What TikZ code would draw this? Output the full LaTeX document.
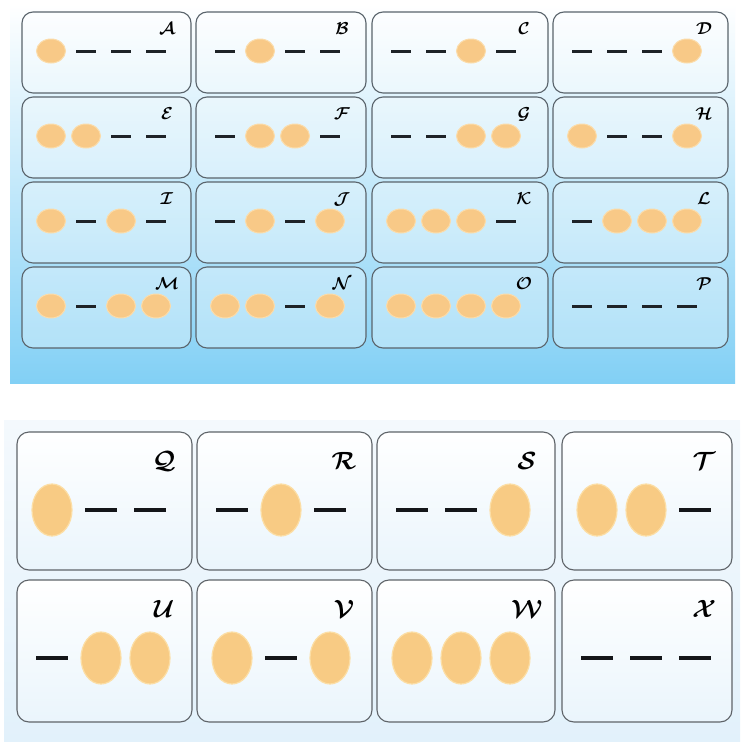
\documentclass[tikz,border=0pt]{standalone}
\usepackage{amsmath}
\usetikzlibrary{shapes.geometric}
\begin{document}
\begin{tikzpicture}[x=1pt,y=-1pt,
  cellbox/.style={draw={rgb,255:red,90;green,100;blue,108}, line width=1.1pt, rounded corners=11pt, fill=white, fill opacity=0.32, draw opacity=1},
  bcellbox/.style={draw={rgb,255:red,95;green,100;blue,105}, line width=1.1pt, rounded corners=12pt, top color=white, bottom color={rgb,255:red,234;green,245;blue,252}},
  topball/.style={ellipse, minimum width=29pt, minimum height=24pt, inner sep=0pt, fill={rgb,255:red,248;green,201;blue,135}, draw={rgb,255:red,251;green,220;blue,170}, line width=1pt},
  botball/.style={ellipse, minimum width=40pt, minimum height=52pt, inner sep=0pt, fill={rgb,255:red,248;green,203;blue,132}, draw={rgb,255:red,252;green,222;blue,165}, line width=1.2pt},
  topdash/.style={line width=3pt, draw={rgb,255:red,30;green,35;blue,40}},
  botdash/.style={line width=4pt, draw={rgb,255:red,20;green,22;blue,25}},
  toplab/.style={font=\boldmath\fontsize{16}{16}\selectfont, inner sep=0pt},
  botlab/.style={font=\boldmath\fontsize{25}{25}\selectfont, inner sep=0pt}
]
\useasboundingbox (0,0) rectangle (740,742);
\fill[white] (0,0) rectangle (740,742);
% top background
\shade[top color=white, middle color={rgb,255:red,200;green,232;blue,249}, bottom color={rgb,255:red,130;green,208;blue,245}] (10,4) rectangle (735,383);
% bottom background
\shade[top color={rgb,255:red,244;green,249;blue,253}, bottom color={rgb,255:red,226;green,241;blue,251}] (4,420) rectangle (740,742);

% #1 left, #2 top, #3 width, #4 pattern, #5 letter
\newcommand\tcell[5]{%
  \draw[cellbox] (#1,#2) rectangle ++(#3,81);
  \node[toplab] (lab#5) at (#1+#3-24,#2+17) {$\mathcal{#5}$};
  \foreach \s [count=\k] in {#4} {
    \if\s o
      \node[topball] (b#5\k) at (#1-6+35*\k,#2+39) {};
    \else
      \coordinate (d#5\k) at (#1-6+35*\k,#2+39);
      \draw[topdash] ([xshift=-10pt]d#5\k) -- ([xshift=10pt]d#5\k);
    \fi
  }
}
\newcommand\bcell[6]{%
  \draw[bcellbox] (#1,#2) rectangle ++(#3,#4);
  \node[botlab] (lab#6) at (#1+#3-28,#2+29) {$\mathcal{#6}$};
  \foreach \s [count=\k] in {#5} {
    \if\s o
      \node[botball] (b#6\k) at (#1-14+49*\k,#2+78) {};
    \else
      \coordinate (d#6\k) at (#1-14+49*\k,#2+78);
      \draw[botdash] ([xshift=-16pt]d#6\k) -- ([xshift=16pt]d#6\k);
    \fi
  }
}

% top grid
\tcell{22}{12}{169}{o,d,d,d}{A}
\tcell{196}{12}{170}{d,o,d,d}{B}
\tcell{372}{12}{176}{d,d,o,d}{C}
\tcell{553}{12}{175}{d,d,d,o}{D}

\tcell{22}{97}{169}{o,o,d,d}{E}
\tcell{196}{97}{170}{d,o,o,d}{F}
\tcell{372}{97}{176}{d,d,o,o}{G}
\tcell{553}{97}{175}{o,d,d,o}{H}

\tcell{22}{182}{169}{o,d,o,d}{I}
\tcell{196}{182}{170}{d,o,d,o}{J}
\tcell{372}{182}{176}{o,o,o,d}{K}
\tcell{553}{182}{175}{d,o,o,o}{L}

\tcell{22}{267}{169}{o,d,o,o}{M}
\tcell{196}{267}{170}{o,o,d,o}{N}
\tcell{372}{267}{176}{o,o,o,o}{O}
\tcell{553}{267}{175}{d,d,d,d}{P}

% bottom grid
\bcell{17}{432}{175}{138}{o,d,d}{Q}
\bcell{197}{432}{175}{138}{d,o,d}{R}
\bcell{377}{432}{178}{138}{d,d,o}{S}
\bcell{562}{432}{170}{138}{o,o,d}{T}

\bcell{17}{580}{175}{142}{d,o,o}{U}
\bcell{197}{580}{175}{142}{o,d,o}{V}
\bcell{377}{580}{178}{142}{o,o,o}{W}
\bcell{562}{580}{170}{142}{d,d,d}{X}
\end{tikzpicture}
\end{document}
